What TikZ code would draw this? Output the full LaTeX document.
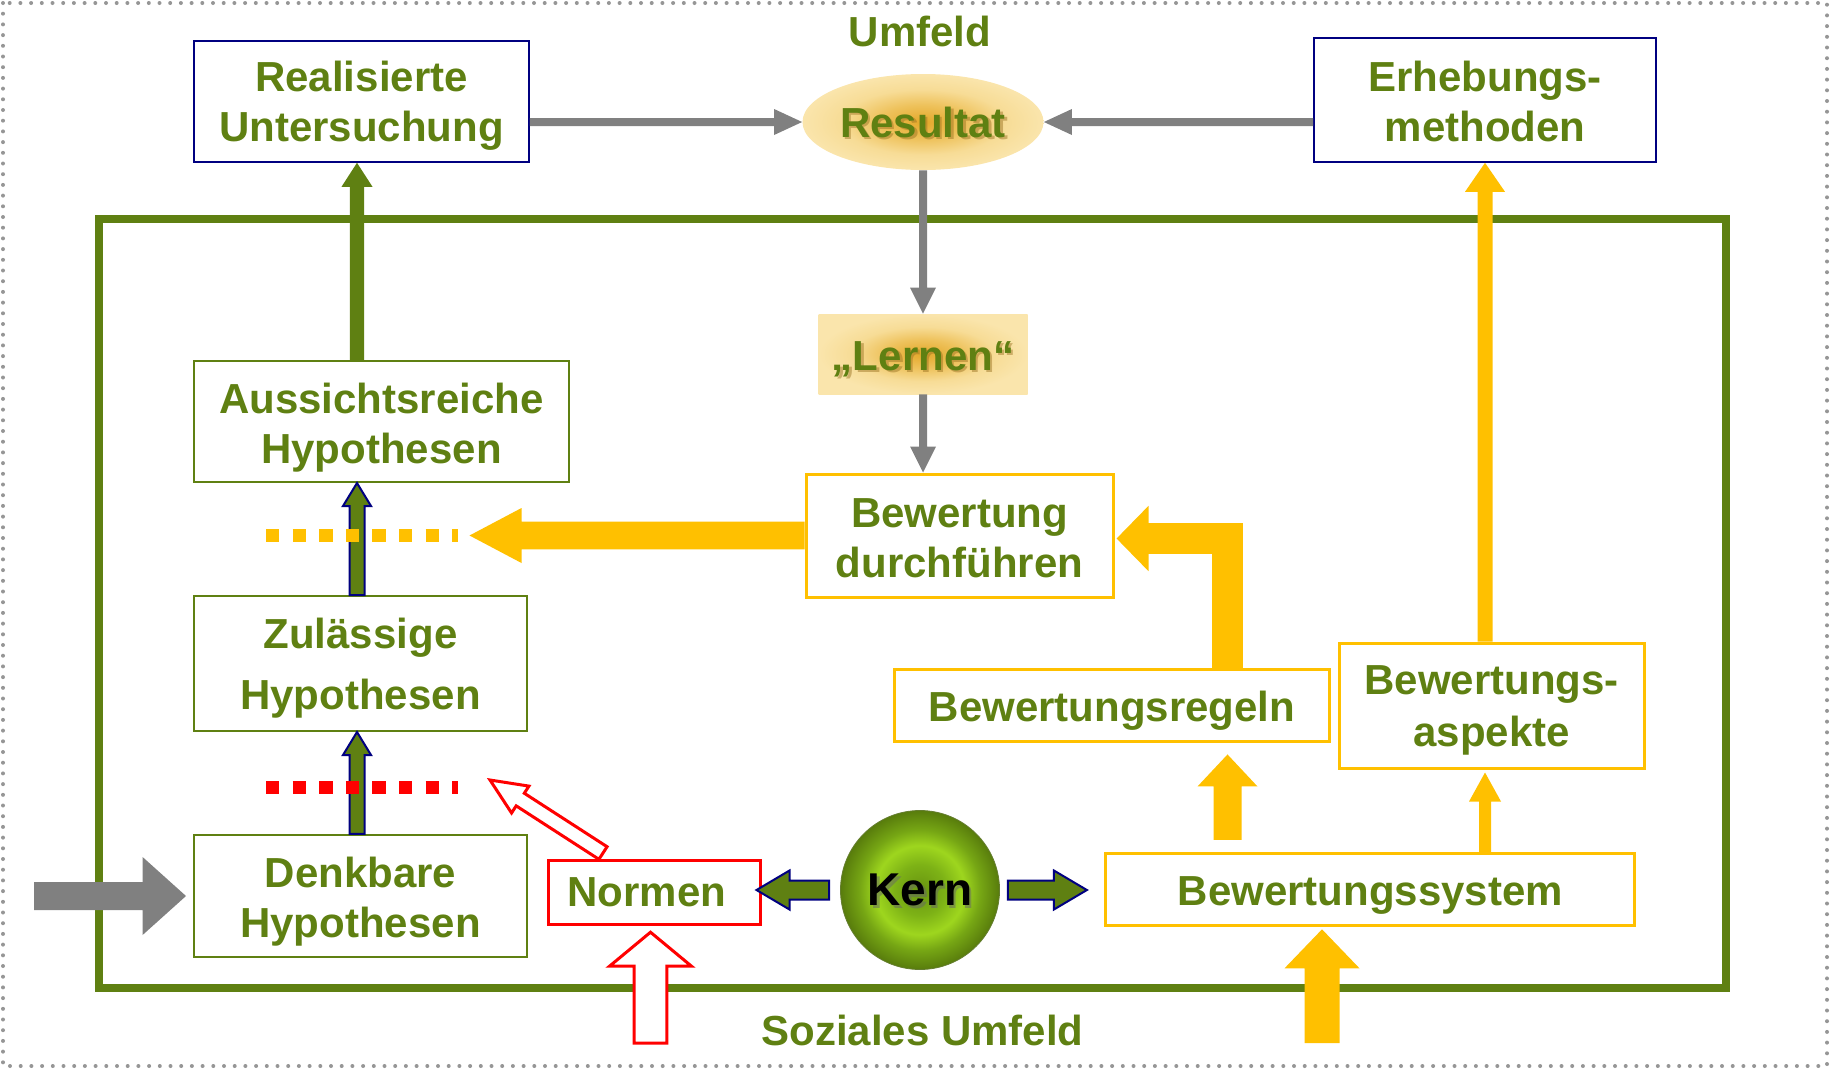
\documentclass[tikz,border=0pt]{standalone}
\usepackage{fontspec}
\setmainfont{Liberation Sans}
\usetikzlibrary{calc,arrows.meta,shapes.geometric}

\definecolor{leafgreen}{RGB}{95,128,18}
\definecolor{navyline}{RGB}{0,0,128}
\definecolor{aorange}{RGB}{255,192,0}
\definecolor{agray}{RGB}{128,128,128}
\definecolor{dotgray}{RGB}{150,150,150}
\definecolor{redline}{RGB}{255,0,0}
\definecolor{goldA}{RGB}{228,168,42}
\definecolor{goldB}{RGB}{238,194,92}
\definecolor{goldC}{RGB}{247,220,150}
\definecolor{goldD}{RGB}{250,229,172}
\definecolor{goldshadow}{RGB}{150,110,30}
\definecolor{kernA}{RGB}{104,148,16}
\definecolor{kernB}{RGB}{125,178,22}
\definecolor{kernC}{RGB}{158,214,30}
\definecolor{kernD}{RGB}{118,166,20}
\definecolor{kernE}{RGB}{88,124,12}

% golden glow of the result ellipse and the learning box
\pgfdeclareradialshading{goldglow}{\pgfpointorigin}{color(0bp)=(goldA); color(9bp)=(goldB); color(17bp)=(goldC); color(25bp)=(goldD); color(50bp)=(goldD)}
% green sphere of the core
\pgfdeclareradialshading{kernglow}{\pgfpointorigin}{color(0bp)=(kernA); color(8bp)=(kernB); color(14bp)=(kernC); color(19bp)=(kernD); color(25bp)=(kernE); color(50bp)=(kernE)}

% straight block arrow: style, from, to, half shaft, half head, head length
\newcommand\blockarrow[6]{%
  \coordinate (bahead) at ($(#3)!#6!(#2)$);
  \draw[#1] ($(#2)!#4!90:(#3)$) -- ($(bahead)!#4!90:(#3)$) -- ($(bahead)!#5!90:(#3)$) -- (#3)
    -- ($(bahead)!#5!-90:(#3)$) -- ($(bahead)!#4!-90:(#3)$) -- ($(#2)!#4!-90:(#3)$) -- cycle;}

\begin{document}
\begin{tikzpicture}[x=0.5pt,y=-0.5pt,
  txt/.style={text=leafgreen, font=\fontsize{21}{25}\selectfont\bfseries, align=center, inner sep=0pt},
  textdown/.style={execute at begin node={\rule{0pt}{#1}}},
  navybox/.style={draw=navyline, line width=0.8pt, inner sep=0pt},
  greenbox/.style={draw=leafgreen, line width=1pt, inner sep=0pt},
  orangebox/.style={txt, draw=aorange, line width=1.5pt},
  redbox/.style={txt, draw=redline, line width=1.5pt},
  shadowtxt/.style={txt, text=goldshadow, opacity=0.45},
  grayarrow/.style={fill=agray, draw=none},
  orangearrow/.style={fill=aorange, draw=none},
  greenarrow/.style={fill=leafgreen, draw=none},
  navyarrow/.style={fill=leafgreen, draw=navyline, line width=1pt},
  hollowred/.style={fill=white, draw=redline, line width=1.5pt},
  dotborder/.style={draw=dotgray, line width=2pt, dash pattern=on 0pt off 5.35pt, line cap=round},
  frameline/.style={draw=leafgreen, line width=4pt},
  dotrow/.style={line width=6.5pt, dash pattern=on 6.65pt off 6.65pt}]

\useasboundingbox (0,0) rectangle (1831,1072);
\draw[dotborder] (3,3) rectangle (1827,1066);

% social environment frame
\draw[frameline] (99,219) rectangle (1726,988);

% labels of the two environments
\node[txt] (umfeld) at (920,31) {Umfeld};
\node[txt] (sozial) at (922.5,1030) {Soziales Umfeld};

% outer boxes
\node[navybox, minimum width=167.5pt, minimum height=60.5pt] (real) at (361.5,101.5) {};
\node[txt] (realtxt) at ($(real)+(0,4.7)$) {Realisierte\\Untersuchung};
\node[navybox, minimum width=171pt, minimum height=62pt] (erh) at (1485,100) {};
\node[txt] (erhtxt) at ($(erh)+(0,1.8)$) {Erhebungs-\\methoden};

% result and learning
\node[ellipse, minimum width=120.5pt, minimum height=48pt, inner sep=0pt, shading=goldglow] (res) at (923,122) {};
\node[shadowtxt] (ressh) at (925.5,124.5) {Resultat};
\node[txt] (restxt) at (res) {Resultat};
\node[rectangle, minimum width=104.5pt, minimum height=40pt, inner sep=0pt, shading=goldglow] (lern) at (923,354) {};
\node[shadowtxt] (lernsh) at (925.5,361.5) {„Lernen“};
\node[txt] (lerntxt) at (923,359) {„Lernen“};

% hypothesis column
\node[greenbox, minimum width=187.5pt, minimum height=60.5pt] (aus) at (381.5,421.5) {};
\node[txt] (austxt) at ($(aus)+(0,5.8)$) {Aussichtsreiche\\Hypothesen};
\node[greenbox, minimum width=166.5pt, minimum height=67.5pt] (zul) at (360.5,663.5) {};
\node[txt, font=\fontsize{21}{30.5}\selectfont\bfseries] (zultxt) at ($(zul)+(0,4.7)$) {Zulässige\\Hypothesen};
\node[greenbox, minimum width=166.5pt, minimum height=61.25pt] (denk) at (360.5,896) {};
\node[txt] (denktxt) at ($(denk)+(0,5.8)$) {Denkbare\\Hypothesen};

% evaluation boxes
\node[orangebox, minimum width=153.5pt, minimum height=61.5pt] (bd) at (959.5,535.5) {};
\node[txt] (bdtxt) at ($(bd)+(0,2.5)$) {Bewertung\\durchführen};
\node[orangebox, textdown=20pt, minimum width=217.75pt, minimum height=35.75pt] (regeln) at (1112,705.7) {Bewertungsregeln};
\node[orangebox, minimum width=152.5pt, minimum height=62.5pt] (asp) at (1491.5,705.5) {};
\node[txt, font=\fontsize{21}{26}\selectfont\bfseries] (asptxt) at ($(asp)+(0,4.7)$) {Bewertungs-\\aspekte};
\node[orangebox, textdown=20pt, minimum width=264.5pt, minimum height=36pt] (bs) at (1370.4,889.8) {Bewertungssystem};
\node[redbox, minimum width=106pt, minimum height=32pt] (norm) at (654,892.7) {};
\node[txt] (normtxt) at ($(norm)+(-7,0)$) {Normen};

% core
\node[circle, minimum size=79.5pt, inner sep=0pt, shading=kernglow, draw=kernE!70!gray, line width=0.4pt] (kern) at (920,890) {};
\node[txt, text=black!60, opacity=0.5, font=\fontsize{23}{27}\selectfont\bfseries] (kernsh) at (922.5,892.5) {Kern};
\node[txt, text=black, font=\fontsize{23}{27}\selectfont\bfseries] (kerntxt) at (kern) {Kern};

% grey arrows round the result
\coordinate (g1s) at (real.east |- res.west);
\blockarrow{grayarrow}{g1s}{res.west}{2pt}{6.5pt}{14pt}
\coordinate (g2s) at (erh.west |- res.east);
\blockarrow{grayarrow}{g2s}{res.east}{2pt}{6.5pt}{14pt}
\blockarrow{grayarrow}{res.south}{lern.north}{2pt}{6.5pt}{13pt}
\coordinate (g4e) at (lern.south |- bd.north);
\blockarrow{grayarrow}{lern.south}{g4e}{2pt}{6.5pt}{13pt}
\coordinate (g5s) at ($(denk.west)+(-159,0)$);
\coordinate (g5e) at ($(denk.west)+(-7,0)$);
\blockarrow{grayarrow}{g5s}{g5e}{7pt}{19.5pt}{21.7pt}

% hypothesis arrows
\coordinate (hx) at (357,0);
\coordinate (n1s) at (hx |- zul.north);
\coordinate (n1e) at (hx |- aus.south);
\blockarrow{navyarrow}{n1s}{n1e}{3.75pt}{7pt}{11.5pt}
\coordinate (n2s) at (hx |- denk.north);
\coordinate (n2e) at (hx |- zul.south);
\blockarrow{navyarrow}{n2s}{n2e}{3.75pt}{7pt}{11.5pt}
\coordinate (n3s) at (hx |- aus.north);
\coordinate (n3e) at (hx |- real.south);
\blockarrow{greenarrow}{n3s}{n3e}{3.6pt}{7.75pt}{12pt}

% arrows out of the core
\coordinate (k1s) at ($(kern.west)+(-11,0)$);
\coordinate (k1e) at ($(k1s -| norm.east)+(-5,0)$);
\blockarrow{navyarrow}{k1s}{k1e}{4.75pt}{9.75pt}{16.5pt}
\coordinate (k2s) at ($(kern.east)+(8,0)$);
\coordinate (k2e) at ($(kern.east)+(87,0)$);
\blockarrow{navyarrow}{k2s}{k2e}{4.75pt}{9.75pt}{16.5pt}

% evaluation arrows
\coordinate (tipO) at ($(bd.west)+(-335,0)$);
\blockarrow{orangearrow}{bd.west}{tipO}{6.9pt}{13.75pt}{26pt}
\coordinate (lx) at (1227.5,0);
\coordinate (lb) at (lx |- regeln.north);
\coordinate (lt) at ($(bd.east)+(2,3)$);
\draw[aorange, line width=15.75pt, -{Triangle[length=16pt,width=31.7pt]}] (lb) |- (lt);
\coordinate (o2s) at ($(lx |- bs.north)+(0,-12.5)$);
\coordinate (o2e) at ($(lx |- regeln.south)+(0,11.5)$);
\blockarrow{orangearrow}{o2s}{o2e}{7pt}{15pt}{16pt}
\coordinate (ax) at (1485,0);
\coordinate (o3s) at (ax |- bs.north);
\coordinate (o3e) at ($(ax |- asp.south)+(0,3)$);
\blockarrow{orangearrow}{o3s}{o3e}{3pt}{8pt}{14.5pt}
\coordinate (o4s) at (ax |- asp.north);
\coordinate (o4e) at (ax |- erh.south);
\blockarrow{orangearrow}{o4s}{o4e}{3.75pt}{10pt}{14.5pt}
\coordinate (o5s) at (1322,1043);
\coordinate (o5e) at ($(o5s |- bs.south)+(0,2)$);
\blockarrow{orangearrow}{o5s}{o5e}{8.75pt}{18.75pt}{19.5pt}

% norm arrows
\coordinate (r1s) at (650.5,1043);
\coordinate (r1e) at ($(r1s |- norm.south)+(0,6)$);
\blockarrow{hollowred}{r1s}{r1e}{8.2pt}{20.5pt}{17pt}
\coordinate (r2s) at (603,853);
\coordinate (r2e) at (490,780);
\blockarrow{hollowred}{r2s}{r2e}{3.75pt}{8pt}{18pt}

% filter lines
\draw[aorange, dotrow] (266,535.5) -- (458,535.5);
\draw[redline, dotrow] (266,787) -- (458,787);

\end{tikzpicture}
\end{document}
